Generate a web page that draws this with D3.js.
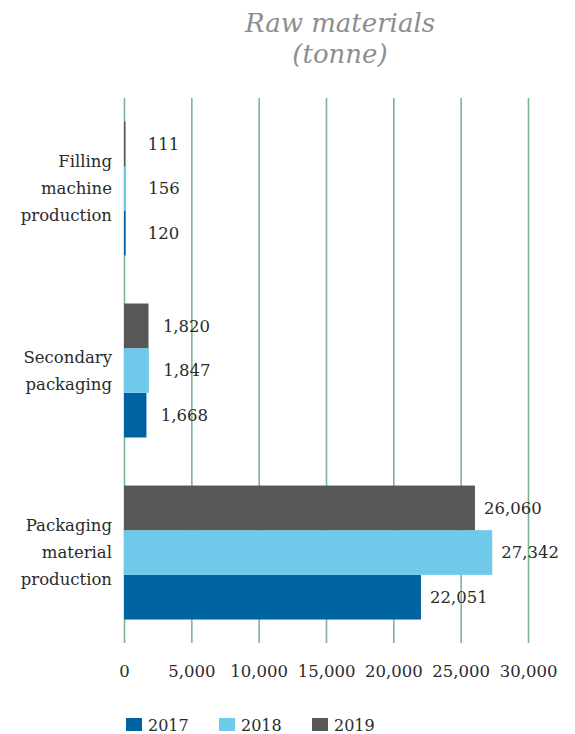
<!DOCTYPE html>
<html>
<head>
<meta charset="utf-8">
<script src="https://cdn.jsdelivr.net/npm/d3@7"></script>
<style>
    body { margin: 0; background: #fff; }
    svg { display: block; }
    .label { font-family: "DejaVu Serif", serif; fill: #2b2b2b; }
    .title { font-family: "DejaVu Serif", serif; font-style: italic; fill: #8e8e8e; }
</style>
</head>
<body>
<div id="chart"></div>
<script>

// Data
const categories = ["Filling machine production", "Secondary packaging", "Packaging material production"];
const categoryLines = [["Filling", "machine", "production"], ["Secondary", "packaging"], ["Packaging", "material", "production"]];
const years = ["2017", "2018", "2019"];
const values2017 = [120, 1668, 22051];
const values2018 = [156, 1847, 27342];
const values2019 = [111, 1820, 26060];
const xTicks = [0, 5000, 10000, 15000, 20000, 25000, 30000];
const colors = ["#0063a1", "#6fc9ea", "#575757"];

// Dimensions
width = 575;
height = 734;
plotLeft = 124;
plotRight = 528;
plotTop = 98;
plotBottom = 643;

svg = d3.select("#chart").append("svg")
    .attr("width", width)
    .attr("height", height);

// Scales
const xScale = d3.scaleLinear()
    .domain([0, 30000])
    .range([plotLeft, plotRight]);

const yScale = d3.scaleBand()
    .domain(categories)
    .range([plotTop, plotBottom])
    .paddingInner(0.264)
    .paddingOuter(0.129);

// bars inside a group: 2019 on top, 2017 at the bottom
const ySub = d3.scaleBand()
    .domain(["2019", "2018", "2017"])
    .range([0, yScale.bandwidth()]);

const color = d3.scaleOrdinal().domain(years).range(colors);

// Grid + tick labels
const xAxis = svg.append("g")
    .attr("transform", "translate(0," + plotBottom + ")")
    .call(d3.axisBottom(xScale)
        .tickValues(xTicks)
        .tickSize(-(plotBottom - plotTop))
        .tickPadding(22)
        .tickFormat(d3.format(",")));
xAxis.select(".domain").remove();
xAxis.selectAll("line")
    .attr("stroke", "#79b791")
    .attr("stroke-width", 1.6);
xAxis.selectAll("text")
    .attr("class", "label")
    .style("font-size", "16.5px")
    .style("font-family", "DejaVu Serif, serif")
    .attr("fill", "#2b2b2b");

// Flatten to rows
rows = [];
categories.forEach((c, i) => {
    rows.push({ cat: c, year: "2017", value: values2017[i] });
    rows.push({ cat: c, year: "2018", value: values2018[i] });
    rows.push({ cat: c, year: "2019", value: values2019[i] });
});

// Bars
svg.append("g")
    .selectAll("rect")
    .data(rows)
    .enter()
    .append("rect")
    .attr("x", xScale(0))
    .attr("y", d => yScale(d.cat) + ySub(d.year))
    .attr("width", d => xScale(d.value) - xScale(0))
    .attr("height", ySub.bandwidth())
    .attr("fill", d => color(d.year));

// Value labels
svg.append("g")
    .selectAll("text")
    .data(rows)
    .enter()
    .append("text")
    .attr("class", "label")
    .attr("x", d => xScale(d.value) + 38)
    .attr("y", d => yScale(d.cat) + ySub(d.year) + ySub.bandwidth() / 2)
    .attr("dy", "0.35em")
    .attr("text-anchor", "middle")
    .style("font-size", "16.5px")
    .text(d => d3.format(",")(d.value));

// Category labels
lineHeight = 27;
categories.forEach((c, i) => {
    lines = categoryLines[i];
    cy = yScale(c) + yScale.bandwidth() / 2;
    t = svg.append("text")
        .attr("class", "label")
        .attr("text-anchor", "end")
        .style("font-size", "16.5px");
    lines.forEach((l, j) => {
        t.append("tspan")
            .attr("x", 112)
            .attr("y", cy + (j - (lines.length - 1) / 2) * lineHeight)
            .attr("dy", "0.35em")
            .text(l);
    });
});

// Title
svg.append("text")
    .attr("class", "title")
    .attr("x", 340)
    .attr("y", 32)
    .attr("text-anchor", "middle")
    .style("font-size", "26px")
    .text("Raw materials");
svg.append("text")
    .attr("class", "title")
    .attr("x", 340)
    .attr("y", 63)
    .attr("text-anchor", "middle")
    .style("font-size", "26px")
    .text("(tonne)");

// Legend
legend = svg.append("g")
    .selectAll("g")
    .data(years)
    .enter()
    .append("g")
    .attr("transform", (d, i) => "translate(" + (126 + i * 93) + ",718)");
legend.append("rect")
    .attr("width", 16)
    .attr("height", 13)
    .attr("fill", d => color(d));
legend.append("text")
    .attr("class", "label")
    .attr("x", 22)
    .attr("y", 13)
    .style("font-size", "16px")
    .text(d => d);

</script>
</body>
</html>
